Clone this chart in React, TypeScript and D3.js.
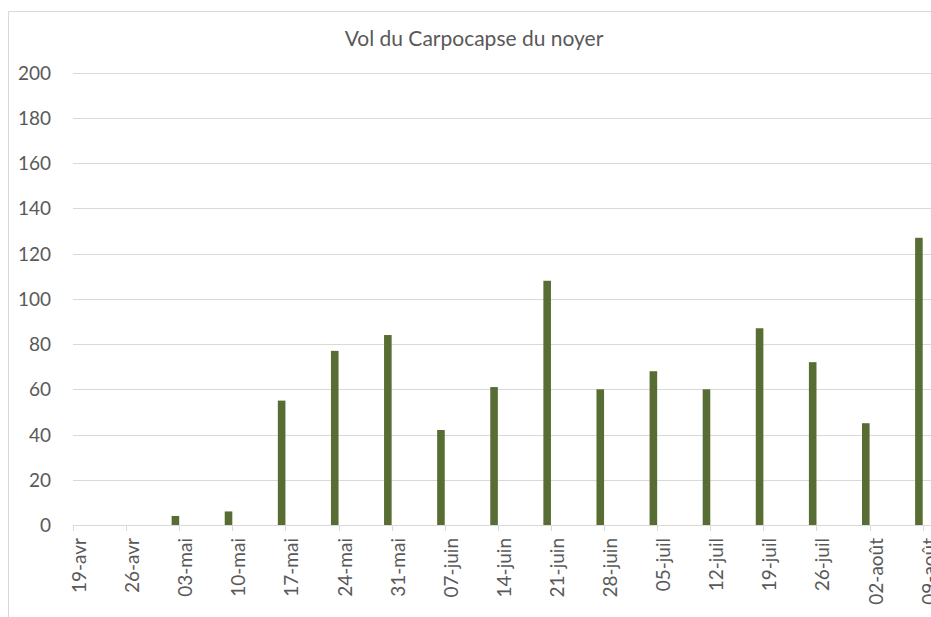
import React, { useEffect, useRef } from 'react';
import * as d3 from 'd3';

// weekly trap counts (one reading per week)
const weekDates = [
  '2021-04-19', '2021-04-26', '2021-05-03', '2021-05-10', '2021-05-17', '2021-05-24',
  '2021-05-31', '2021-06-07', '2021-06-14', '2021-06-21', '2021-06-28', '2021-07-05',
  '2021-07-12', '2021-07-19', '2021-07-26', '2021-08-02', '2021-08-09'
];
const weekLabels = [
  '19-avr', '26-avr', '03-mai', '10-mai', '17-mai', '24-mai', '31-mai', '07-juin', '14-juin',
  '21-juin', '28-juin', '05-juil', '12-juil', '19-juil', '26-juil', '02-août', '09-août'
];
const captures = [0, 0, 4, 6, 55, 77, 84, 42, 61, 108, 60, 68, 60, 87, 72, 45, 127];
const yTicks = [0, 20, 40, 60, 80, 100, 120, 140, 160, 180, 200];

const title = 'Vol du Carpocapse du noyer';

const App = () => {
  const width = 931;
  const height = 617;
  const svgRef = useRef<SVGSVGElement>(null);

  useEffect(() => {
    const svg = d3.select(svgRef.current);
    svg.selectAll('*').remove();

    const font = 'Lato, "Open Sans", sans-serif';
    const grey = '#595959';
    const lineCol = '#d9d9d9';

    const parse = d3.timeParse('%Y-%m-%d');
    const dates = weekDates.map(d => parse(d) as Date);

    const x = d3.scaleTime()
      .domain([dates[0], dates[dates.length - 1]])
      .range([73, 922.7]);
    const y = d3.scaleLinear().domain([0, 200]).range([525, 72.7]);

    // background + chart frame
    svg.append('rect').attr('width', width).attr('height', height).attr('fill', '#fff');
    svg.append('path')
      .attr('d', `M8.5,${height} V11.5 H${width + 2}`)
      .attr('fill', 'none')
      .attr('stroke', lineCol);

    // title
    svg.append('text')
      .attr('x', 474)
      .attr('y', 46)
      .attr('text-anchor', 'middle')
      .attr('font-family', font)
      .attr('font-size', 21)
      .attr('fill', grey)
      .text(title);

    // gridlines
    svg.append('g')
      .selectAll('line')
      .data(yTicks)
      .enter().append('line')
      .attr('x1', 73)
      .attr('x2', width + 2)
      .attr('y1', d => Math.round(y(d)) + 0.5)
      .attr('y2', d => Math.round(y(d)) + 0.5)
      .attr('stroke', lineCol);

    // y labels
    svg.append('g')
      .selectAll('text')
      .data(yTicks)
      .enter().append('text')
      .attr('x', 51)
      .attr('y', d => y(d) + 7)
      .attr('text-anchor', 'end')
      .attr('font-family', font)
      .attr('font-size', 19)
      .attr('fill', grey)
      .text(d => d);

    // x tick marks
    svg.append('g')
      .selectAll('line')
      .data(dates)
      .enter().append('line')
      .attr('x1', d => Math.round(x(d)) + 0.5)
      .attr('x2', d => Math.round(x(d)) + 0.5)
      .attr('y1', 525)
      .attr('y2', 531)
      .attr('stroke', lineCol);

    // bars: each reading fills the day before its tick
    svg.append('g')
      .selectAll('rect')
      .data(captures)
      .enter().append('rect')
      .attr('x', (d, i) => x(d3.timeDay.offset(dates[i], -1)))
      .attr('width', (d, i) => x(dates[i]) - x(d3.timeDay.offset(dates[i], -1)))
      .attr('y', d => y(d))
      .attr('height', d => y(0) - y(d))
      .attr('fill', '#586d33');

    // x labels, rotated
    svg.append('g')
      .selectAll('text')
      .data(weekLabels)
      .enter().append('text')
      .attr('transform', (d, i) => `translate(${x(dates[i]) + 13},538) rotate(-90)`)
      .attr('text-anchor', 'end')
      .attr('font-family', font)
      .attr('font-size', 19)
      .attr('fill', grey)
      .text(d => d);
  });

  return (
    <svg ref={svgRef} width={width} height={height}
      style={{ position: 'absolute', left: 0, top: 0 }}></svg>
  );
};

export default App;
